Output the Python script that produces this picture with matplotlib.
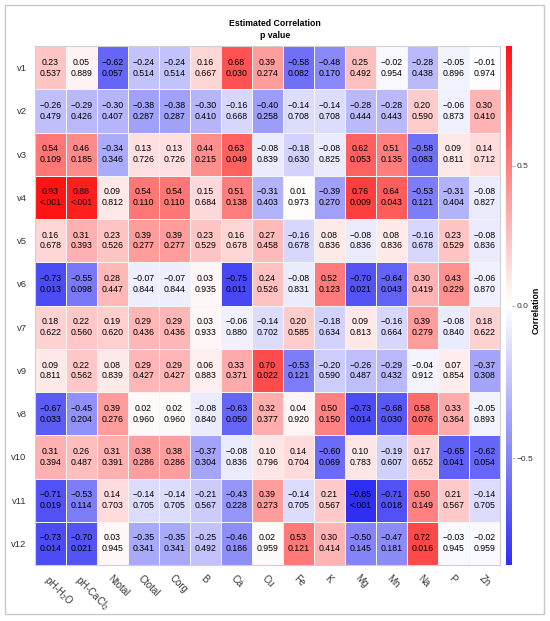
import numpy as np
import matplotlib
matplotlib.use("Agg")
import matplotlib.pyplot as plt
import matplotlib.transforms as mtransforms
from matplotlib.colors import LinearSegmentedColormap, TwoSlopeNorm
from matplotlib.patches import Rectangle

plt.rcParams['font.family'] = ['Liberation Sans', 'DejaVu Sans']
plt.rcParams['mathtext.fontset'] = 'custom'
plt.rcParams['mathtext.rm'] = 'Liberation Sans'
plt.rcParams['mathtext.default'] = 'regular'

# columns and rows as in the picture
columns = ['pH-H$_2$O', 'pH-CaCl$_2$', 'Ntotal', 'Ctotal', 'Corg', 'B', 'Ca', 'Cu',
           'Fe', 'K', 'Mg', 'Mn', 'Na', 'P', 'Zn']
rows = ['v1', 'v2', 'v3', 'v4', 'v5', 'v6', 'v7', 'v9', 'v8', 'v10', 'v11', 'v12']

# estimated correlation, one list per row
r_v1 = [0.23, 0.05, -0.62, -0.24, -0.24, 0.16, 0.68, 0.39, -0.58, -0.48, 0.25, -0.02, -0.28, -0.05, -0.01]
r_v2 = [-0.26, -0.29, -0.30, -0.38, -0.38, -0.30, -0.16, -0.40, -0.14, -0.14, -0.28, -0.28, 0.20, -0.06, 0.30]
r_v3 = [0.54, 0.46, -0.34, 0.13, 0.13, 0.44, 0.63, -0.08, -0.18, -0.08, 0.62, 0.51, -0.58, 0.09, 0.14]
r_v4 = [0.93, 0.88, 0.09, 0.54, 0.54, 0.15, 0.51, -0.31, 0.01, -0.39, 0.76, 0.64, -0.53, -0.31, -0.08]
r_v5 = [0.16, 0.31, 0.23, 0.39, 0.39, 0.23, 0.16, 0.27, -0.16, 0.08, -0.08, 0.08, -0.16, 0.23, -0.08]
r_v6 = [-0.73, -0.55, 0.28, -0.07, -0.07, 0.03, -0.75, 0.24, -0.08, 0.52, -0.70, -0.64, 0.30, 0.43, -0.06]
r_v7 = [0.18, 0.22, 0.19, 0.29, 0.29, 0.03, -0.06, -0.14, 0.20, -0.18, 0.09, -0.16, 0.39, -0.08, 0.18]
r_v9 = [0.09, 0.22, 0.08, 0.29, 0.29, 0.06, 0.33, 0.70, -0.53, -0.20, -0.26, -0.29, -0.04, 0.07, -0.37]
r_v8 = [-0.67, -0.45, 0.39, 0.02, 0.02, -0.08, -0.63, 0.32, 0.04, 0.50, -0.73, -0.68, 0.58, 0.33, -0.05]
r_v10 = [0.31, 0.26, 0.31, 0.38, 0.38, -0.37, -0.08, 0.10, 0.14, -0.60, 0.10, -0.19, 0.17, -0.65, -0.62]
r_v11 = [-0.71, -0.53, 0.14, -0.14, -0.14, -0.21, -0.43, 0.39, -0.14, 0.21, -0.85, -0.71, 0.50, 0.21, -0.14]
r_v12 = [-0.73, -0.70, 0.03, -0.35, -0.35, -0.25, -0.46, 0.02, 0.53, 0.30, -0.50, -0.47, 0.72, -0.03, -0.02]

# p values (0.0005 stands for "<.001")
p_v1 = [0.537, 0.889, 0.057, 0.514, 0.514, 0.667, 0.030, 0.274, 0.082, 0.170, 0.492, 0.954, 0.438, 0.896, 0.974]
p_v2 = [0.479, 0.426, 0.407, 0.287, 0.287, 0.410, 0.668, 0.258, 0.708, 0.708, 0.444, 0.443, 0.590, 0.873, 0.410]
p_v3 = [0.109, 0.185, 0.346, 0.726, 0.726, 0.215, 0.049, 0.839, 0.630, 0.825, 0.053, 0.135, 0.083, 0.811, 0.712]
p_v4 = [0.0005, 0.0005, 0.812, 0.110, 0.110, 0.684, 0.138, 0.403, 0.973, 0.270, 0.009, 0.043, 0.121, 0.404, 0.827]
p_v5 = [0.678, 0.393, 0.526, 0.277, 0.277, 0.529, 0.678, 0.458, 0.678, 0.836, 0.836, 0.836, 0.678, 0.529, 0.836]
p_v6 = [0.013, 0.098, 0.447, 0.844, 0.844, 0.935, 0.011, 0.526, 0.831, 0.123, 0.021, 0.043, 0.419, 0.229, 0.870]
p_v7 = [0.622, 0.560, 0.620, 0.436, 0.436, 0.933, 0.880, 0.702, 0.585, 0.634, 0.813, 0.664, 0.279, 0.840, 0.622]
p_v9 = [0.811, 0.562, 0.839, 0.427, 0.427, 0.883, 0.371, 0.022, 0.121, 0.590, 0.487, 0.432, 0.912, 0.854, 0.308]
p_v8 = [0.033, 0.204, 0.276, 0.960, 0.960, 0.840, 0.050, 0.377, 0.920, 0.150, 0.014, 0.030, 0.076, 0.364, 0.893]
p_v10 = [0.394, 0.487, 0.391, 0.286, 0.286, 0.304, 0.836, 0.796, 0.704, 0.069, 0.783, 0.607, 0.652, 0.041, 0.054]
p_v11 = [0.019, 0.114, 0.703, 0.705, 0.705, 0.567, 0.228, 0.273, 0.705, 0.567, 0.0005, 0.018, 0.149, 0.567, 0.705]
p_v12 = [0.014, 0.021, 0.945, 0.341, 0.341, 0.492, 0.186, 0.959, 0.121, 0.414, 0.145, 0.181, 0.016, 0.945, 0.959]

R = np.array([r_v1, r_v2, r_v3, r_v4, r_v5, r_v6, r_v7, r_v9, r_v8, r_v10, r_v11, r_v12])
P = np.array([p_v1, p_v2, p_v3, p_v4, p_v5, p_v6, p_v7, p_v9, p_v8, p_v10, p_v11, p_v12])

cmap = LinearSegmentedColormap.from_list('bwr2', ['#2f2ff4', '#ffffff', '#ff1414'])
norm = TwoSlopeNorm(vmin=R.min(), vcenter=0.0, vmax=R.max())

fig = plt.figure(figsize=(5.5, 6.21), dpi=100)
fig.patches.append(Rectangle((5 / 550, 7 / 621), 539 / 550, 609 / 621, transform=fig.transFigure,
                             fill=False, edgecolor='#c8c8c8', linewidth=1.0))

ax = fig.add_axes([35 / 550, 1 - 565 / 621, 465 / 550, 519 / 621])
mesh = ax.pcolormesh(R, cmap=cmap, norm=norm, edgecolors='#f4f4f4', linewidth=0.4)
ax.set_xlim(0, len(columns))
ax.set_ylim(len(rows), 0)

for i in range(len(rows)):
    for j in range(len(columns)):
        rtxt = f"{R[i, j]:.2f}".replace('-', '\u2212')
        ptxt = '<.001' if P[i, j] < 0.001 else f"{P[i, j]:.3f}"
        ax.text(j + 0.5, i + 0.5, rtxt + '\n' + ptxt, ha='center', va='center',
                fontsize=6.3, color='black', linespacing=1.25)

ax.set_xticks(np.arange(len(columns)) + 0.5)
ax.set_xticklabels(columns, rotation=-45, ha='left', va='top', rotation_mode='anchor',
                   fontsize=7, color='#333333')
shift = mtransforms.ScaledTranslation(-7 / 100, 2 / 100, fig.dpi_scale_trans)
for lab in ax.get_xticklabels():
    lab.set_transform(lab.get_transform() + shift)
ax.set_yticks(np.arange(len(rows)) + 0.5)
ax.set_yticklabels(rows, fontsize=6.8, color='#333333')
ax.tick_params(length=0, pad=6)
for s in ax.spines.values():
    s.set_color('#d0d0d0')
    s.set_linewidth(0.8)

fig.text(275 / 550, 1 - 24 / 621, 'Estimated Correlation', ha='center', va='center',
         fontsize=6.3, fontweight='bold')
fig.text(275 / 550, 1 - 36 / 621, 'p value', ha='center', va='center',
         fontsize=6.3, fontweight='bold')

cax = fig.add_axes([506 / 550, 1 - 565 / 621, 6 / 550, 519 / 621])
cb = fig.colorbar(mesh, cax=cax)
cb.set_ticks([-0.5, 0.0, 0.5])
cb.ax.tick_params(labelsize=6, length=2, width=0.5, color='#999999', labelcolor='#333333', pad=1.5)
cb.outline.set_visible(False)
cb.set_label('Correlation', fontsize=6.3, fontweight='bold')
cb.ax.yaxis.set_label_coords(5.0, 0.49)
cb.ax.yaxis.label.set_va('center')

fig.savefig('out.png', dpi=100)
